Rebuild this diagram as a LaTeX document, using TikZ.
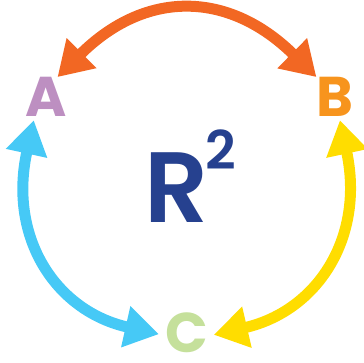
\documentclass[tikz,border=0pt]{standalone}
\usepackage{fontspec}
\setmainfont{Poppins}
\newfontfamily\rfont{Poppins SemiBold}
\usetikzlibrary{arrows.meta}

\definecolor{lilacA}{HTML}{BD8FC1}
\definecolor{orangeB}{HTML}{F7941D}
\definecolor{greenC}{HTML}{C5E09B}
\definecolor{navyR}{HTML}{26418F}
\definecolor{arcAB}{HTML}{F26723}
\definecolor{arcAC}{HTML}{46C9F6}
\definecolor{arcBC}{HTML}{FFDD00}

\begin{document}
\begin{tikzpicture}[x=0.75pt,y=-0.75pt,
	letter/.style={font=\fontsize{42}{42}\selectfont\bfseries, inner sep=0pt},
	swap/.style={line width=8.25pt, {Triangle[length=25.5pt,width=30pt]}-{Triangle[length=25.5pt,width=30pt]}}]
	\useasboundingbox (0,0) rectangle (364,363);
	% vertices
	\node[letter, text=lilacA] (A) at (46,97) {A};
	\node[letter, text=orangeB] (B) at (335,97) {B};
	\node[letter, text=greenC] (C) at (187,333) {C};
	\node[anchor=base west, inner sep=0pt, text=navyR, font=\fontsize{75}{75}\rfont] (R) at (144,223) {R\hspace{-2pt}\raisebox{40pt}{\fontsize{40}{40}\selectfont 2}};
	% arcs
	\draw[swap, arcAB] (A.60) .. controls (145,-10) and (228,-10) .. (B.133);
	\draw[swap, arcAC, shorten <=2.5pt, shorten >=5pt] (A.240) .. controls (8,238) and (56,311) .. (C.187);
	\draw[swap, arcBC, shorten <=2.5pt, shorten >=4pt] (B.282) .. controls (365,238) and (317,311) .. (C.352);
\end{tikzpicture}
\end{document}
